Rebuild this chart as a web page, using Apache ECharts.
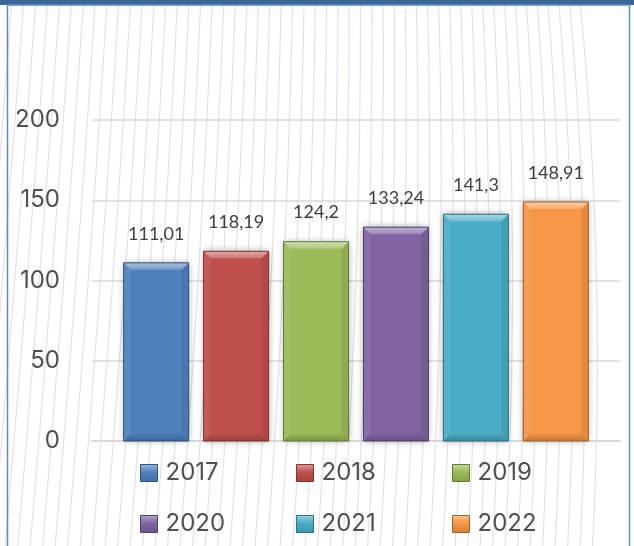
<!DOCTYPE html>
<html>
<head>
<meta charset="utf-8">
<script src="https://cdn.jsdelivr.net/npm/echarts@6/dist/echarts.min.js"></script>
<style>
  html, body { margin: 0; padding: 0; background: #ffffff; }
  #chart { width: 634px; height: 546px; }
</style>
</head>
<body>
<div id="chart"></div>
<script>
// Yearly values, one bar per year
const YEARS = ['2017', '2018', '2019', '2020', '2021', '2022'];
const VALUES = [111.01, 118.19, 124.2, 133.24, 141.3, 148.91];
const COLORS = ['#4f81bd', '#c0504d', '#9bbb59', '#8064a2', '#4bacc6', '#f79646'];
const Y_TICKS = [0, 50, 100, 150, 200];

const CAT_GAP = 0.12;   // share of the band left empty around the bar group
const BAR_GAP = 0.23;   // gap between neighbouring bars, relative to bar width
const BEVEL = 7;

function mix(hex, target, amt) {
  const n = parseInt(hex.slice(1), 16);
  const r = (n >> 16) & 255, g = (n >> 8) & 255, b = n & 255;
  const m = v => Math.round(v + (target - v) * amt);
  return 'rgb(' + m(r) + ',' + m(g) + ',' + m(b) + ')';
}
const lighten = (c, a) => mix(c, 255, a);
const darken = (c, a) => mix(c, 0, a);
const fmt = v => String(v).replace('.', ',');

function renderBar(params, api) {
  const i = params.seriesIndex;
  const c = COLORS[i];
  const v = api.value(1);
  const p0 = api.coord([api.value(0), 0]);
  const p1 = api.coord([api.value(0), v]);
  const band = api.size([1, 0])[0];
  const group = band * (1 - CAT_GAP);
  const w = group / (YEARS.length + (YEARS.length - 1) * BAR_GAP);
  const x = p0[0] - group / 2 + i * w * (1 + BAR_GAP);
  const y = p1[1];
  const h = p0[1] - p1[1];
  const b = BEVEL;
  return {
    type: 'group',
    children: [
      { type: 'rect', shape: { x: x, y: y, width: w, height: h },
        style: { fill: c, shadowBlur: 7, shadowColor: 'rgba(0,0,0,0.35)' } },
      { type: 'polygon', shape: { points: [[x, y], [x + b, y + b], [x + b, y + h - b], [x, y + h]] },
        style: { fill: lighten(c, 0.06) } },
      { type: 'polygon', shape: { points: [[x + w, y], [x + w - b, y + b], [x + w - b, y + h - b], [x + w, y + h]] },
        style: { fill: darken(c, 0.08) } },
      { type: 'polygon', shape: { points: [[x, y + h], [x + b, y + h - b], [x + w - b, y + h - b], [x + w, y + h]] },
        style: { fill: new echarts.graphic.LinearGradient(0, 0, 0, 1, [
          { offset: 0, color: darken(c, 0.05) }, { offset: 1, color: darken(c, 0.2) }]) } },
      { type: 'polygon', shape: { points: [[x, y], [x + w, y], [x + w - b, y + b], [x + b, y + b]] },
        style: { fill: new echarts.graphic.LinearGradient(0, 0, 0, 1, [
          { offset: 0, color: lighten(c, 0.5) }, { offset: 1, color: lighten(c, 0.22) }]) } },
      { type: 'rect', shape: { x: x, y: y, width: w, height: h },
        style: { fill: null, stroke: darken(c, 0.35), lineWidth: 1 } },
      { type: 'text', x: x + w / 2, y: y - 29,
        style: { text: fmt(v), align: 'center', verticalAlign: 'middle',
          font: '18px Lato, "Open Sans", sans-serif', fill: '#404040' } }
    ]
  };
}

// Faint curved hatching behind the plot
const hatch = [];
for (let b0 = -70; b0 <= 600; b0 += 12.5) {
  const r = (b0 + 70) / 670;
  const a1 = 50 - 22 * r;
  const a2 = 4 + 38 * r * r;
  const pts = [];
  for (let k = 0; k <= 14; k++) {
    const t = k / 14;
    pts.push([b0 + a1 * t - a2 * t * t, 548 - t * 552]);
  }
  hatch.push({ type: 'polyline', silent: true, z: -10,
    shape: { points: pts, smooth: 0.3 },
    style: { stroke: '#dfe3ea', lineWidth: 1.2, fill: null } });
}

// One legend per entry, laid out as a 3 x 2 table
const LEG_LEFT = [140, 296, 452];
const LEG_TOP = [461, 512];
const legends = YEARS.map((name, i) => {
  const c = COLORS[i];
  return {
    orient: 'horizontal',
    left: LEG_LEFT[i % 3],
    top: LEG_TOP[Math.floor(i / 3)],
    padding: 0,
    itemWidth: 17,
    itemHeight: 17,
    selectedMode: false,
    textStyle: { fontFamily: 'Inter, "Open Sans", sans-serif', fontSize: 24, color: '#505050',
      padding: [0, 0, 0, 3] },
    data: [{
      name: name,
      icon: 'rect',
      itemStyle: {
        color: new echarts.graphic.LinearGradient(0, 0, 0, 1, [
          { offset: 0, color: lighten(c, 0.45) }, { offset: 0.45, color: c }, { offset: 1, color: darken(c, 0.15) }]),
        borderColor: darken(c, 0.35), borderWidth: 1
      }
    }]
  };
});

const chart = echarts.init(document.getElementById('chart'), null, { renderer: 'canvas' });
chart.setOption({
  backgroundColor: '#ffffff',
  animation: false,
  graphic: hatch.concat([
    { type: 'rect', silent: true, z: -5, shape: { x: 0, y: 0, width: 634, height: 5 },
      style: { fill: '#3b6497' } },
    { type: 'rect', silent: true, z: -5, shape: { x: 7.5, y: 5, width: 622, height: 560 },
      style: { fill: null, stroke: '#5b8bc9', lineWidth: 1.5 } }
  ]),
  grid: { left: 92, right: 14, top: 120, bottom: 105 },
  legend: legends,
  xAxis: {
    type: 'category',
    data: [''],
    axisLine: { lineStyle: { color: '#d9d9d9', width: 2 } },
    axisTick: { show: false },
    axisLabel: { show: false }
  },
  yAxis: {
    type: 'value',
    min: Y_TICKS[0],
    max: Y_TICKS[Y_TICKS.length - 1],
    interval: Y_TICKS[1] - Y_TICKS[0],
    axisLine: { show: false },
    axisTick: { show: false },
    splitLine: { lineStyle: { color: '#d9d9d9', width: 1.5 } },
    axisLabel: { margin: 32, fontFamily: 'Inter, "Open Sans", sans-serif', fontSize: 24, color: '#505050' }
  },
  series: YEARS.map((year, i) => ({
    name: year,
    type: 'custom',
    renderItem: renderBar,
    itemStyle: { color: COLORS[i] },
    data: [[0, VALUES[i]]],
    z: 3
  }))
});
</script>
</body>
</html>
